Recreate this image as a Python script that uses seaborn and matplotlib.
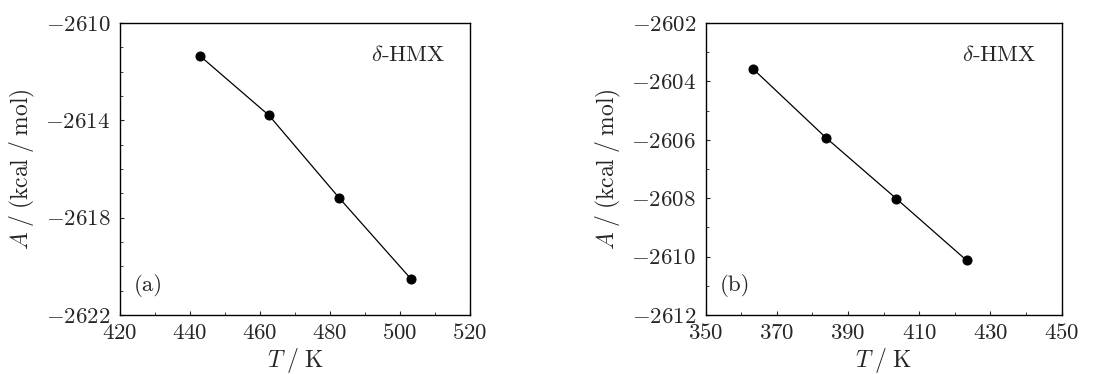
import matplotlib
matplotlib.use("Agg")
import matplotlib.pyplot as plt
import seaborn as sns
import pandas as pd
import numpy as np
from matplotlib.ticker import FuncFormatter

# Data
T_a = [443.0, 462.6, 482.7, 503.1]
A_a = [-2611.37, -2613.80, -2617.20, -2620.51]
T_b = [363.3, 383.8, 403.6, 423.3]
A_b = [-2603.57, -2605.93, -2608.02, -2610.13]
xticks_a = [420, 440, 460, 480, 500, 520]
yticks_a = [-2622, -2618, -2614, -2610]
xticks_b = [350, 370, 390, 410, 430, 450]
yticks_b = [-2612, -2610, -2608, -2606, -2604, -2602]
panel_labels = ["(a)", "(b)"]
phase_label = r"$\delta$-HMX"

sns.set_theme(style="ticks")
plt.rcParams["font.family"] = ["cmr10", "DejaVu Serif"]
plt.rcParams["mathtext.fontset"] = "cm"
plt.rcParams["axes.formatter.use_mathtext"] = True
plt.rcParams["axes.unicode_minus"] = True

fig = plt.figure(figsize=(11.12, 3.74), dpi=100)
ax1 = fig.add_axes([0.1079, 0.1578, 0.3147, 0.7807])
ax2 = fig.add_axes([0.6346, 0.1578, 0.3201, 0.7807])

fmt = FuncFormatter(lambda v, p: r"$%d$" % round(v))

configs = [
    (ax1, T_a, A_a, xticks_a, yticks_a, 10, 1, panel_labels[0]),
    (ax2, T_b, A_b, xticks_b, yticks_b, 10, 1, panel_labels[1]),
]

for ax, T, A, xt, yt, xmin, ymin, lab in configs:
    df = pd.DataFrame({"T": T, "A": A})
    sns.lineplot(data=df, x="T", y="A", ax=ax, color="black", linewidth=0.9,
                 marker="o", markersize=6.5, markeredgecolor="black",
                 markerfacecolor="black", sort=False)
    ax.set_xlim(xt[0], xt[-1])
    ax.set_ylim(yt[0], yt[-1])
    ax.set_xticks(xt)
    ax.set_yticks(yt)
    ax.set_xticks(np.arange(xt[0], xt[-1] + 0.1, xmin), minor=True)
    ax.set_yticks(np.arange(yt[0], yt[-1] + 0.1, ymin), minor=True)
    ax.xaxis.set_major_formatter(fmt)
    ax.yaxis.set_major_formatter(fmt)
    ax.tick_params(which="major", direction="in", length=3, width=0.8,
                   labelsize=16.5, top=False, right=False)
    ax.tick_params(axis="x", which="major", pad=6)
    ax.tick_params(axis="y", which="major", pad=7)
    ax.tick_params(which="minor", direction="in", length=2, width=0.6,
                   top=False, right=False)
    for s in ax.spines.values():
        s.set_linewidth(1.0)
        s.set_color("black")
    ax.set_xlabel(r"$T\;/\;\mathrm{K}$", fontsize=17, labelpad=2)
    ax.set_ylabel(r"$A\;/\;(\mathrm{kcal\;/\;mol})$", fontsize=17, labelpad=6)
    ax.text(0.93, 0.89, phase_label, transform=ax.transAxes, ha="right",
            va="center", fontsize=16.5)
    ax.text(0.04, 0.10, lab, transform=ax.transAxes, ha="left",
            va="center", fontsize=16.5)

fig.savefig("out.png", dpi=100)
